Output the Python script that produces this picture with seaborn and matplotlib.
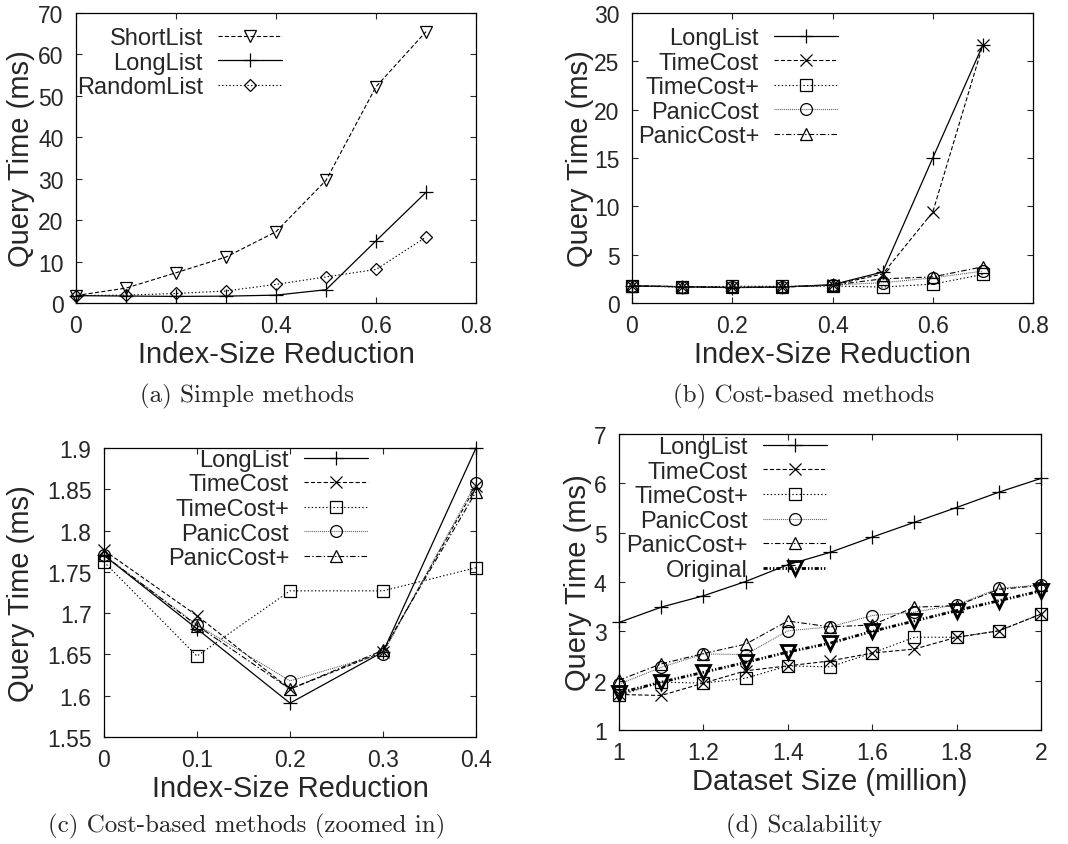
import matplotlib
matplotlib.use("Agg")
import matplotlib.pyplot as plt
from matplotlib.ticker import FuncFormatter, MultipleLocator
import seaborn as sns

# ---- data -------------------------------------------------------------
# index-size reduction sweep (panels a, b, c)
reduction = [0.0, 0.1, 0.2, 0.3, 0.4, 0.5, 0.6, 0.7]
short_list = [1.8, 3.6, 7.3, 11.1, 17.2, 29.6, 52.2, 65.5]
long_list = [1.77, 1.681, 1.591, 1.653, 1.90, 3.2, 15.0, 26.7]
random_list = [1.8, 1.9, 2.3, 2.9, 4.5, 6.3, 8.1, 15.9]

time_cost = [1.776, 1.697, 1.608, 1.653, 1.854, 3.0, 9.4, 26.7]
time_cost_plus = [1.762, 1.648, 1.727, 1.727, 1.755, 1.65, 1.95, 2.95]
panic_cost = [1.770, 1.686, 1.618, 1.651, 1.858, 2.1, 2.6, 3.3]
panic_cost_plus = [1.770, 1.685, 1.608, 1.655, 1.847, 2.5, 2.7, 3.75]

# zoomed-in range of panel c
zoom_n = 5

# scalability sweep (panel d), dataset size in millions
dataset_size = [1.0, 1.1, 1.2, 1.3, 1.4, 1.5, 1.6, 1.7, 1.8, 1.9, 2.0]
d_long_list = [3.18, 3.49, 3.72, 4.01, 4.35, 4.60, 4.91, 5.21, 5.51, 5.82, 6.10]
d_time_cost = [1.72, 1.70, 1.95, 2.20, 2.30, 2.40, 2.56, 2.64, 2.88, 3.01, 3.35]
d_time_cost_plus = [1.70, 1.97, 1.95, 2.05, 2.30, 2.28, 2.56, 2.88, 2.88, 3.01, 3.35]
d_panic_cost = [1.93, 2.27, 2.54, 2.53, 3.01, 3.09, 3.32, 3.39, 3.54, 3.87, 3.94]
d_panic_cost_plus = [2.01, 2.34, 2.55, 2.74, 3.21, 3.09, 3.13, 3.49, 3.52, 3.85, 3.93]
d_original = [1.75, 1.97, 2.17, 2.37, 2.58, 2.76, 3.00, 3.21, 3.42, 3.62, 3.82]

captions = ["(a) Simple methods", "(b) Cost-based methods",
            "(c) Cost-based methods (zoomed in)", "(d) Scalability"]

# ---- styling ----------------------------------------------------------
sns.set_style("ticks")
plt.rcParams["font.family"] = ["Liberation Sans", "DejaVu Sans"]
plt.rcParams["lines.scale_dashes"] = False

STYLES = {
    "ShortList":  dict(marker="v", ms=8.5, ls=(0, (3.0, 1.6)), lw=0.8, color="black", mew=0.9),
    "LongList":   dict(marker="+", ms=10, ls="-", lw=0.9, color="black", mew=0.9),
    "RandomList": dict(marker="D", ms=6.2, ls=(0, (1.0, 1.6)), lw=0.8, color="black", mew=0.9),
    "TimeCost":   dict(marker="x", ms=8.5, ls=(0, (3.0, 1.6)), lw=0.8, color="black", mew=0.9),
    "TimeCost+":  dict(marker="s", ms=8.5, ls=(0, (1.0, 1.6)), lw=0.8, color="black", mew=0.9),
    "PanicCost":  dict(marker="o", ms=8.5, ls=(0, (0.7, 0.7)), lw=0.8, color="0.35", mew=0.9),
    "PanicCost+": dict(marker="^", ms=8.5, ls=(0, (4.0, 1.6, 1.0, 1.6)), lw=0.8, color="black", mew=0.9),
    "Original":   dict(marker="v", ms=9.5, ls=(0, (3.0, 1.4, 1.0, 1.4, 1.0, 1.4)), lw=2.0, color="black", mew=2.0),
}

TICK_FS = 16.5
LEGEND_FS = 17
LABEL_FS = 21
W, H = 1068, 845

fig = plt.figure(figsize=(W / 100, H / 100), dpi=100)


def axes_at(left, top, right, bottom):
    return fig.add_axes([left / W, 1 - bottom / H, (right - left) / W, (bottom - top) / H])


def draw(ax, x, y, name):
    s = STYLES[name]
    sns.lineplot(x=x, y=y, ax=ax, label=name, legend=False, estimator=None, sort=False,
                 color=s["color"], linestyle=s["ls"], linewidth=s["lw"],
                 marker=s["marker"], markersize=s["ms"], markerfacecolor="none",
                 markeredgecolor="black", markeredgewidth=s["mew"], clip_on=False)


def finish(ax, xlim, ylim, xstep, ystep, xlabel, ylabel, ylabel_x, legend_anchor):
    ax.set_xlim(*xlim)
    ax.set_ylim(*ylim)
    ax.xaxis.set_major_locator(MultipleLocator(xstep))
    ax.yaxis.set_major_locator(MultipleLocator(ystep))
    fmt = FuncFormatter(lambda v, p: f"{round(v, 6):g}")
    ax.xaxis.set_major_formatter(fmt)
    ax.yaxis.set_major_formatter(fmt)
    ax.tick_params(direction="in", top=True, right=True, length=4, width=0.8,
                   labelsize=TICK_FS, pad=8)
    ax.tick_params(axis="y", pad=9)
    for sp in ax.spines.values():
        sp.set_visible(True)
        sp.set_linewidth(0.9)
        sp.set_color("black")
    ax.set_xlabel(xlabel, fontsize=LABEL_FS, va="center")
    ax.set_ylabel(ylabel, fontsize=LABEL_FS, va="center")
    h = ax.get_window_extent().height
    ax.xaxis.set_label_coords(0.5, -51 / h * fig.dpi / 100)
    ax.yaxis.set_label_coords(ylabel_x, 0.5)
    lines = ax.get_lines()
    ax.legend(handles=lines, labels=[l.get_label() for l in lines],
              loc="upper right", bbox_to_anchor=legend_anchor, markerfirst=False,
              frameon=False, fontsize=LEGEND_FS, handlelength=2.7, handletextpad=0.65,
              labelspacing=0.11, borderpad=0, borderaxespad=0, numpoints=1)


# (a) simple methods
ax_a = axes_at(76, 14, 476, 304)
draw(ax_a, reduction, short_list, "ShortList")
draw(ax_a, reduction, long_list, "LongList")
draw(ax_a, reduction, random_list, "RandomList")
finish(ax_a, (0, 0.8), (0, 70), 0.2, 10, "Index-Size Reduction", "Query Time (ms)",
       -0.1375, (0.515, 0.952))

# (b) cost-based methods
ax_b = axes_at(632, 14, 1033, 304)
draw(ax_b, reduction, long_list, "LongList")
draw(ax_b, reduction, time_cost, "TimeCost")
draw(ax_b, reduction, time_cost_plus, "TimeCost+")
draw(ax_b, reduction, panic_cost, "PanicCost")
draw(ax_b, reduction, panic_cost_plus, "PanicCost+")
finish(ax_b, (0, 0.8), (0, 30), 0.2, 5, "Index-Size Reduction", "Query Time (ms)",
       -0.130, (0.514, 0.952))

# (c) cost-based methods, zoomed in on the low-reduction range
ax_c = axes_at(104, 449, 476, 738)
draw(ax_c, reduction[:zoom_n], long_list[:zoom_n], "LongList")
draw(ax_c, reduction[:zoom_n], time_cost[:zoom_n], "TimeCost")
draw(ax_c, reduction[:zoom_n], time_cost_plus[:zoom_n], "TimeCost+")
draw(ax_c, reduction[:zoom_n], panic_cost[:zoom_n], "PanicCost")
draw(ax_c, reduction[:zoom_n], panic_cost_plus[:zoom_n], "PanicCost+")
finish(ax_c, (0, 0.4), (1.55, 1.9), 0.1, 0.05, "Index-Size Reduction", "Query Time (ms)",
       -0.223, (0.710, 0.997))

# (d) scalability
ax_d = axes_at(619, 435, 1041, 731)
draw(ax_d, dataset_size, d_long_list, "LongList")
draw(ax_d, dataset_size, d_time_cost, "TimeCost")
draw(ax_d, dataset_size, d_time_cost_plus, "TimeCost+")
draw(ax_d, dataset_size, d_panic_cost, "PanicCost")
draw(ax_d, dataset_size, d_panic_cost_plus, "PanicCost+")
draw(ax_d, dataset_size, d_original, "Original")
finish(ax_d, (1, 2), (1, 7), 0.2, 1, "Dataset Size (million)", "Query Time (ms)",
       -0.098, (0.493, 0.993))

# sub-figure captions
for text, (cx, cy) in zip(captions, [(247, 396), (804, 396), (247, 826), (804, 826)]):
    fig.text(cx / W, 1 - cy / H, text, ha="center", va="center",
             fontfamily="cmr10", fontsize=18)

fig.savefig("out.png", dpi=100)
